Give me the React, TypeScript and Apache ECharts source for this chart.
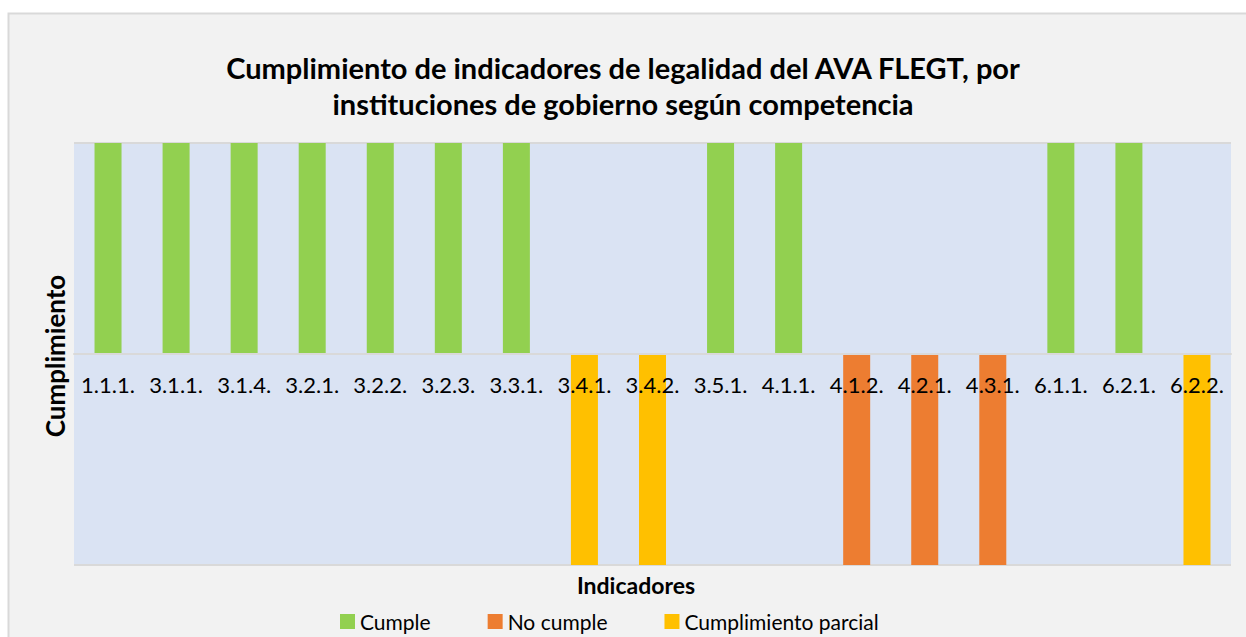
import React, { useEffect, useRef } from "react";
import * as echarts from "echarts";

const categories = ["1.1.1.", "3.1.1.", "3.1.4.", "3.2.1.", "3.2.2.", "3.2.3.", "3.3.1.", "3.4.1.", "3.4.2.", "3.5.1.", "4.1.1.", "4.1.2.", "4.2.1.", "4.3.1.", "6.1.1.", "6.2.1.", "6.2.2."];
const cumple = [1, 1, 1, 1, 1, 1, 1, null, null, 1, 1, null, null, null, 1, 1, null];
const noCumple = [null, null, null, null, null, null, null, null, null, null, null, -1, -1, -1, null, null, null];
const parcial = [null, null, null, null, null, null, null, -1, -1, null, null, null, null, null, null, null, -1];

const FONT = "Lato, 'Open Sans', sans-serif";

export default function App() {
  const ref = useRef<HTMLDivElement>(null);
  useEffect(() => {
    document.body.style.margin = "0";
    const chart = echarts.init(ref.current!, null, { renderer: "svg" });
    chart.setOption({
      animation: false,
      backgroundColor: "#ffffff",
      textStyle: { fontFamily: FONT },
      graphic: [
        {
          type: "rect",
          z: -10,
          shape: { x: 8.5, y: 13.5, width: 1250, height: 640 },
          style: { fill: "#f2f2f2", stroke: "#d9d9d9", lineWidth: 2 },
        },
        {
          type: "text",
          x: 55,
          y: 356,
          rotation: Math.PI / 2,
          style: {
            text: "Cumplimiento",
            font: `bold 26px ${FONT}`,
            fill: "#000",
            align: "center",
            verticalAlign: "middle",
          },
        },
        {
          type: "text",
          x: 636,
          y: 585,
          style: {
            text: "Indicadores",
            font: `bold 23px ${FONT}`,
            fill: "#000",
            align: "center",
            verticalAlign: "middle",
          },
        },
      ],
      title: {
        text: "Cumplimiento de indicadores de legalidad del AVA FLEGT, por\ninstituciones de gobierno según competencia",
        left: "center",
        top: 44,
        textStyle: { fontFamily: FONT, fontSize: 29, fontWeight: "bold", color: "#000", lineHeight: 36 },
      },
      legend: {
        left: 340,
        top: 611,
        padding: 0,
        itemWidth: 15,
        itemHeight: 15,
        itemGap: 57,
        icon: "rect",
        textStyle: { fontFamily: FONT, fontSize: 21, color: "#000" },
        data: ["Cumple", "No cumple", "Cumplimiento parcial"],
      },
      grid: {
        left: 74,
        right: 15,
        top: 143,
        bottom: 72,
        show: true,
        backgroundColor: "#dae3f3",
        borderWidth: 0,
      },
      xAxis: {
        type: "category",
        data: categories,
        z: 5,
        offset: -211,
        axisLine: { show: true, onZero: false, lineStyle: { color: "#d9d9d9", width: 2 } },
        axisTick: { show: false },
        axisLabel: { fontFamily: FONT, fontSize: 22, color: "#000", margin: 19, interval: 0, hideOverlap: false },
      },
      yAxis: {
        type: "value",
        min: -1,
        max: 1,
        interval: 1,
        axisLabel: { show: false },
        axisLine: { show: false },
        axisTick: { show: false },
        splitLine: { show: true, lineStyle: { color: "#d9d9d9", width: 2 } },
      },
      series: [
        { name: "Cumple", type: "bar", stack: "s", data: cumple, barWidth: 27, itemStyle: { color: "#92d050" } },
        { name: "No cumple", type: "bar", stack: "s", data: noCumple, barWidth: 27, itemStyle: { color: "#ed7d31" } },
        { name: "Cumplimiento parcial", type: "bar", stack: "s", data: parcial, barWidth: 27, itemStyle: { color: "#ffc000" } },
      ],
    });
    return () => chart.dispose();
  }, []);
  return <div ref={ref} style={{ width: 1246, height: 637 }} />;
}
